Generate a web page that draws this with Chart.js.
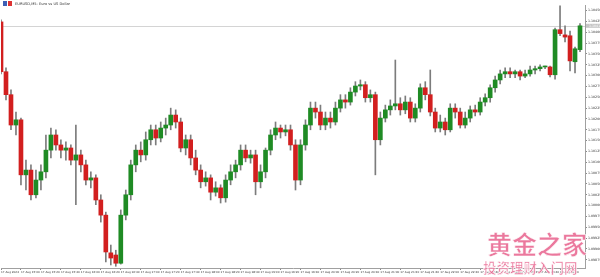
<!DOCTYPE html>
<html>
<head>
<meta charset="utf-8">
<script src="https://cdn.jsdelivr.net/npm/chart.js@4"></script>
<style>
  html, body { margin: 0; padding: 0; background: #fff; }
  #wrap { position: relative; width: 600px; height: 277px; }
</style>
</head>
<body>
<div id="wrap"><canvas id="chart" width="600" height="277"></canvas></div>
<script>
/* EURUSD M5 — 蜡烛图 */

const opens = [1.10424, 1.10309, 1.10256, 1.10186, 1.10198, 1.10071, 1.10082, 1.10025, 1.10059, 1.10078,
  1.10128, 1.10163, 1.10140, 1.10128, 1.10133, 1.10105, 1.10117, 1.10094, 1.10059, 1.10064,
  1.10013, 1.09978, 1.09891, 1.09886, 1.09867, 1.09978, 1.10025, 1.10094, 1.10128, 1.10117,
  1.10152, 1.10175, 1.10156, 1.10179, 1.10186, 1.10209, 1.10193, 1.10133, 1.10152, 1.10110,
  1.10082, 1.10055, 1.10064, 1.10031, 1.10041, 1.10018, 1.10059, 1.10078, 1.10094, 1.10128,
  1.10110, 1.10117, 1.10055, 1.10078, 1.10128, 1.10163, 1.10179, 1.10170, 1.10175, 1.10140,
  1.10059, 1.10140, 1.10186, 1.10225, 1.10216, 1.10186, 1.10202, 1.10193, 1.10225, 1.10244,
  1.10239, 1.10262, 1.10276, 1.10279, 1.10249, 1.10256, 1.10152, 1.10202, 1.10221, 1.10230,
  1.10235, 1.10221, 1.10239, 1.10202, 1.10225, 1.10272, 1.10256, 1.10216, 1.10179, 1.10193,
  1.10175, 1.10225, 1.10216, 1.10186, 1.10202, 1.10221, 1.10216, 1.10239, 1.10249, 1.10272,
  1.10290, 1.10304, 1.10309, 1.10304, 1.10309, 1.10299, 1.10304, 1.10313, 1.10316, 1.10320,
  1.10320, 1.10302, 1.10406, 1.10394, 1.10392, 1.10332, 1.10360];

const closes = [1.10309, 1.10256, 1.10186, 1.10198, 1.10071, 1.10082, 1.10025, 1.10059, 1.10078, 1.10128,
  1.10163, 1.10140, 1.10128, 1.10133, 1.10105, 1.10117, 1.10094, 1.10059, 1.10064, 1.10013,
  1.09978, 1.09893, 1.09879, 1.09867, 1.09978, 1.10025, 1.10094, 1.10128, 1.10117, 1.10152,
  1.10175, 1.10156, 1.10179, 1.10186, 1.10209, 1.10193, 1.10133, 1.10152, 1.10110, 1.10082,
  1.10055, 1.10064, 1.10031, 1.10041, 1.10018, 1.10059, 1.10078, 1.10094, 1.10128, 1.10110,
  1.10117, 1.10055, 1.10078, 1.10128, 1.10163, 1.10179, 1.10170, 1.10175, 1.10140, 1.10059,
  1.10140, 1.10186, 1.10225, 1.10216, 1.10186, 1.10202, 1.10193, 1.10225, 1.10244, 1.10239,
  1.10262, 1.10276, 1.10279, 1.10249, 1.10256, 1.10152, 1.10202, 1.10221, 1.10230, 1.10235,
  1.10221, 1.10239, 1.10202, 1.10225, 1.10272, 1.10256, 1.10216, 1.10179, 1.10193, 1.10175,
  1.10225, 1.10216, 1.10186, 1.10202, 1.10221, 1.10216, 1.10239, 1.10249, 1.10272, 1.10290,
  1.10304, 1.10309, 1.10304, 1.10309, 1.10299, 1.10304, 1.10313, 1.10316, 1.10320, 1.10320,
  1.10302, 1.10406, 1.10397, 1.10389, 1.10334, 1.10362, 1.10415];

const highs = [1.10429, 1.10318, 1.10267, 1.10216, 1.10202, 1.10105, 1.10094, 1.10082, 1.10094, 1.10163,
  1.10179, 1.10175, 1.10152, 1.10147, 1.10140, 1.10186, 1.10128, 1.10105, 1.10078, 1.10071,
  1.10025, 1.09985, 1.09909, 1.09897, 1.09990, 1.10036, 1.10105, 1.10140, 1.10147, 1.10170,
  1.10186, 1.10186, 1.10193, 1.10202, 1.10225, 1.10221, 1.10202, 1.10163, 1.10163, 1.10128,
  1.10094, 1.10078, 1.10071, 1.10055, 1.10048, 1.10071, 1.10094, 1.10105, 1.10140, 1.10140,
  1.10128, 1.10128, 1.10094, 1.10133, 1.10175, 1.10193, 1.10186, 1.10186, 1.10186, 1.10152,
  1.10152, 1.10198, 1.10239, 1.10239, 1.10232, 1.10216, 1.10216, 1.10239, 1.10256, 1.10256,
  1.10272, 1.10286, 1.10290, 1.10286, 1.10267, 1.10262, 1.10216, 1.10232, 1.10244, 1.10336,
  1.10249, 1.10253, 1.10249, 1.10235, 1.10281, 1.10286, 1.10313, 1.10225, 1.10209, 1.10202,
  1.10235, 1.10235, 1.10225, 1.10216, 1.10230, 1.10232, 1.10249, 1.10258, 1.10279, 1.10299,
  1.10313, 1.10318, 1.10318, 1.10313, 1.10313, 1.10313, 1.10322, 1.10322, 1.10325, 1.10322,
  1.10322, 1.10410, 1.10461, 1.10415, 1.10403, 1.10366, 1.10420];

const lows = [1.10304, 1.10244, 1.10175, 1.10163, 1.10048, 1.10036, 1.10013, 1.10018, 1.10036, 1.10064,
  1.10110, 1.10128, 1.10110, 1.10105, 1.10094, 1.10002, 1.10078, 1.10048, 1.10041, 1.10002,
  1.09962, 1.09870, 1.09863, 1.09860, 1.09865, 1.09967, 1.10013, 1.10078, 1.10101, 1.10105,
  1.10140, 1.10140, 1.10147, 1.10163, 1.10175, 1.10179, 1.10124, 1.10117, 1.10094, 1.10071,
  1.10041, 1.10045, 1.10013, 1.10022, 1.10006, 1.10008, 1.10048, 1.10064, 1.10082, 1.10101,
  1.10098, 1.10025, 1.10041, 1.10064, 1.10117, 1.10152, 1.10156, 1.10161, 1.10128, 1.10036,
  1.10048, 1.10128, 1.10175, 1.10202, 1.10175, 1.10175, 1.10179, 1.10186, 1.10216, 1.10225,
  1.10232, 1.10253, 1.10267, 1.10239, 1.10239, 1.10071, 1.10140, 1.10193, 1.10209, 1.10221,
  1.10209, 1.10212, 1.10193, 1.10193, 1.10216, 1.10244, 1.10207, 1.10170, 1.10170, 1.10163,
  1.10170, 1.10202, 1.10179, 1.10179, 1.10193, 1.10207, 1.10209, 1.10230, 1.10239, 1.10262,
  1.10281, 1.10295, 1.10295, 1.10295, 1.10290, 1.10295, 1.10299, 1.10304, 1.10311, 1.10316,
  1.10297, 1.10292, 1.10392, 1.10378, 1.10311, 1.10306, 1.10355];

// 时间轴标签（每 4 根 K 线一个）
const xLabelBars = [0, 4, 8, 12, 16, 20, 24, 28, 32, 36, 40, 44, 48, 52, 56, 60, 64, 68, 72, 76,
  80, 84, 88, 92, 96, 100, 104, 108, 112];
const xLabels = ['17 Aug 2024', '17 Aug 15:00', '17 Aug 15:20', '17 Aug 15:40', '17 Aug 16:00',
  '17 Aug 16:20', '17 Aug 16:40', '17 Aug 17:00', '17 Aug 17:20', '17 Aug 17:40', '17 Aug 18:00',
  '17 Aug 18:20', '17 Aug 18:40', '17 Aug 19:00', '17 Aug 19:20', '17 Aug 19:40', '17 Aug 20:00',
  '17 Aug 20:20', '17 Aug 20:40', '17 Aug 21:00', '17 Aug 21:20', '17 Aug 21:40', '17 Aug 22:00',
  '17 Aug 22:20', '17 Aug 22:40', '17 Aug 23:00', '17 Aug 23:20', '17 Aug 23:40', '18 Aug 00:00'];

// 价格轴刻度
const yTicks = [1.10450, 1.10425, 1.10400, 1.10375, 1.10350, 1.10325, 1.10300, 1.10275, 1.10250,
  1.10225, 1.10200, 1.10175, 1.10150, 1.10125, 1.10100, 1.10075, 1.10050, 1.10025, 1.10000,
  1.09975, 1.09950, 1.09925, 1.09900, 1.09875];

const UP = '#1f8b24';
const DOWN = '#d21f1f';
const WICK = '#7c7c7c';

const bodyColors = opens.map((o, i) => closes[i] >= o ? UP : DOWN);

const overlay = {
  id: 'mt4Overlay',
  beforeDraw(chart) {
    const c = chart.ctx;
    c.save();
    c.fillStyle = '#fff';
    c.fillRect(0, 0, chart.width, chart.height);
    c.restore();
  },
  beforeDatasetsDraw(chart) {
    const c = chart.ctx, a = chart.chartArea;
    const y = Math.round(chart.scales.y.getPixelForValue(closes[closes.length - 1])) + 0.5;
    c.save();
    c.strokeStyle = '#d4d4d4';
    c.lineWidth = 1;
    c.beginPath();
    c.moveTo(a.left, y);
    c.lineTo(a.right, y);
    c.stroke();
    c.restore();
  },
  afterDraw(chart) {
    const c = chart.ctx, a = chart.chartArea;
    c.save();
    // 标题
    c.fillStyle = '#3d5fb5';
    c.fillRect(3, 1, 4, 5);
    c.fillStyle = '#d33';
    c.fillRect(8, 1, 4, 5);
    c.fillStyle = '#333';
    c.font = '3.6px "DejaVu Sans"';
    c.textBaseline = 'middle';
    c.fillText('EURUSD,M5: Euro vs US Dollar', 15, 4);
    // 当前价格标签
    const last = closes[closes.length - 1];
    const y = chart.scales.y.getPixelForValue(last);
    c.fillStyle = '#c6c6c6';
    c.fillRect(a.right + 1, y - 2, 15, 4);
    c.fillStyle = '#fff';
    c.font = '3.2px "DejaVu Sans"';
    c.fillText(last.toFixed(5), a.right + 4, y);
    // 水印
    c.textBaseline = 'alphabetic';
    c.font = 'bold 25px "Noto Sans CJK SC"';
    c.fillStyle = 'rgba(232,96,140,0.85)';
    c.fillText('黄金之家', 487, 254);
    c.strokeStyle = 'rgba(255,255,255,0.85)';
    c.lineWidth = 0.7;
    c.strokeText('黄金之家', 487, 254);
    c.font = 'bold 13.5px "Noto Sans CJK SC"';
    c.fillText('投资理财入门网', 483, 273);
    c.strokeText('投资理财入门网', 483, 273);
    c.restore();
  }
};

new Chart(document.getElementById('chart'), {
  type: 'bar',
  data: {
    datasets: [
      {
        label: 'body',
        data: opens.map((o, i) => ({ x: i, y: [o, closes[i]] })),
        backgroundColor: bodyColors,
        borderWidth: 0,
        barThickness: 4,
        minBarLength: 1,
        grouped: false,
        order: 0
      },
      {
        label: 'wick',
        data: lows.map((l, i) => ({ x: i, y: [l, highs[i]] })),
        backgroundColor: WICK,
        borderWidth: 0,
        barThickness: 1,
        grouped: false,
        order: 1
      }
    ]
  },
  options: {
    responsive: false,
    animation: false,
    layout: { padding: { top: 5, left: 0, right: 0, bottom: 0 } },
    plugins: { legend: { display: false }, tooltip: { enabled: false } },
    scales: {
      x: {
        type: 'linear', min: 0, max: 117, offset: false,
        afterBuildTicks: s => { s.ticks = xLabelBars.map(v => ({ value: v })); },
        afterFit: s => { s.height = 9; },
        grid: { drawOnChartArea: false, offset: false, tickLength: 2, color: '#8a8a8a' },
        border: { color: '#a0a0a0' },
        ticks: {
          autoSkip: false, maxRotation: 0, align: 'start', padding: 1,
          color: '#333', font: { size: 2.8, family: 'DejaVu Sans' },
          callback: v => xLabels[xLabelBars.indexOf(v)]
        }
      },
      y: {
        position: 'right', min: 1.09856, max: 1.10463,
        afterBuildTicks: s => { s.ticks = yTicks.map(v => ({ value: v })); },
        afterFit: s => { s.width = 15; },
        grid: { drawOnChartArea: false, tickLength: 2, color: '#8a8a8a' },
        border: { color: '#a0a0a0' },
        ticks: {
          padding: 1, color: '#333', font: { size: 3.2, family: 'DejaVu Sans' },
          callback: v => v.toFixed(5)
        }
      }
    }
  },
  plugins: [overlay]
});
</script>
</body>
</html>
